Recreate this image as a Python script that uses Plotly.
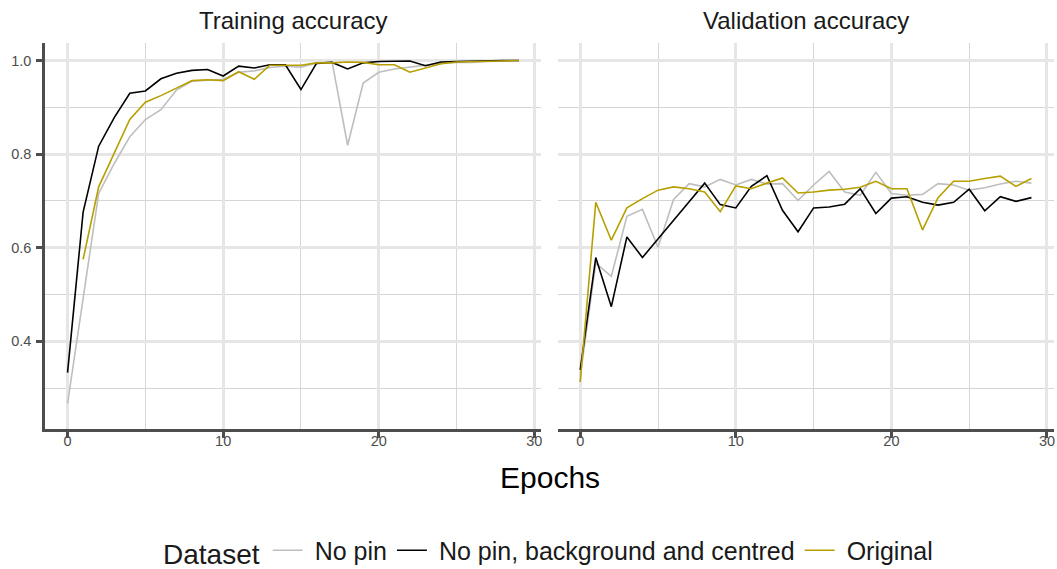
import plotly.graph_objects as go

epochs = list(range(30))

train_nopin = [0.267, 0.49, 0.716, 0.78, 0.837, 0.874, 0.895, 0.937, 0.956, 0.958,
               0.960, 0.975, 0.978, 0.985, 0.988, 0.986, 0.995, 0.997, 0.819, 0.952,
               0.975, 0.982, 0.986, 0.990, 0.994, 0.996, 0.996, 0.998, 0.999, 1.0]
train_nopin_bg = [0.333, 0.676, 0.817, 0.878, 0.930, 0.935, 0.961, 0.973, 0.979, 0.981,
                  0.967, 0.988, 0.984, 0.991, 0.991, 0.938, 0.994, 0.996, 0.982, 0.995,
                  0.998, 0.998, 0.999, 0.989, 0.997, 0.998, 0.999, 0.999, 1.0, 1.0]
train_original = [None, 0.575, 0.730, 0.802, 0.874, 0.911, 0.925, 0.941, 0.957, 0.959,
                  0.957, 0.976, 0.960, 0.990, 0.990, 0.990, 0.995, 0.995, 0.997, 0.996,
                  0.991, 0.991, 0.975, 0.984, 0.993, 0.997, 0.998, 0.999, 1.0, 1.0]

val_nopin = [0.325, 0.567, 0.539, 0.667, 0.682, 0.601, 0.703, 0.737, 0.730, 0.746,
             0.734, 0.746, 0.736, 0.737, 0.701, 0.734, 0.763, 0.719, 0.712, 0.761,
             0.716, 0.712, 0.714, 0.737, 0.734, 0.723, 0.728, 0.736, 0.742, 0.738]
val_nopin_bg = [0.339, 0.579, 0.474, 0.623, 0.579, 0.618, 0.659, 0.698, 0.738, 0.692,
                0.685, 0.731, 0.754, 0.680, 0.634, 0.685, 0.687, 0.693, 0.726, 0.673,
                0.706, 0.709, 0.697, 0.691, 0.697, 0.725, 0.679, 0.709, 0.699, 0.707]
val_original = [0.313, 0.697, 0.616, 0.685, 0.705, 0.723, 0.730, 0.726, 0.719, 0.677,
                0.732, 0.726, 0.738, 0.749, 0.717, 0.719, 0.723, 0.725, 0.729, 0.742,
                0.726, 0.726, 0.638, 0.707, 0.742, 0.742, 0.748, 0.753, 0.731, 0.748]

series_names = ["No pin", "No pin, background and centred", "Original"]
series_colors = ["#BEBEBE", "#000000", "#B79F00"]
panel_titles = ["Training accuracy", "Validation accuracy"]
x_ticks = [0, 10, 20, 30]
y_ticks = [0.4, 0.6, 0.8, 1.0]

FONT = "Liberation Sans, Arial, sans-serif"
NB = "\u00a0"

fig = go.Figure()
train = [train_nopin, train_nopin_bg, train_original]
val = [val_nopin, val_nopin_bg, val_original]
for i, (name, col) in enumerate(zip(series_names, series_colors)):
    fig.add_trace(go.Scatter(x=epochs, y=train[i], mode="lines", name=NB + name,
                             line=dict(color=col, width=1.6), legendgroup=name,
                             xaxis="x", yaxis="y", connectgaps=False))
    fig.add_trace(go.Scatter(x=epochs, y=val[i], mode="lines", name=NB + name,
                             line=dict(color=col, width=1.6), legendgroup=name,
                             showlegend=False, xaxis="x2", yaxis="y2"))

L, R, T, B = 44.7, 3.2, 43, 140
W, H = 1057, 569
pw = W - L - R
ph = H - B - T
d1 = (541.1 - L) / pw
d2 = (557.4 - L) / pw

xcommon = dict(range=[-1.45, 30.45], tickvals=x_ticks, showline=True, linecolor="#4D4D4D",
               linewidth=2.6, ticks="outside", ticklen=6, tickwidth=2.6, tickcolor="#4D4D4D",
               tickfont=dict(family=FONT, size=14.5, color="#4D4D4D"), zeroline=False,
               automargin=False, ticklabelstandoff=-9,
               showgrid=True, gridcolor="#E6E6E6", gridwidth=3,
               minor=dict(dtick=5, tick0=0, showgrid=True, gridcolor="#D6D6D6", gridwidth=1.2))
ycommon = dict(range=[0.2125, 1.0375], tickvals=y_ticks, ticktext=["0.4", "0.6", "0.8", "1.0"],
               zeroline=False, automargin=False,
               showgrid=True, gridcolor="#E6E6E6", gridwidth=3,
               minor=dict(dtick=0.1, tick0=0, showgrid=True, gridcolor="#D6D6D6", gridwidth=1.2),
               tickfont=dict(family=FONT, size=14.5, color="#4D4D4D"))

fig.update_layout(
    width=W, height=H,
    margin=dict(l=L, r=R, t=T, b=B, pad=0, autoexpand=False),
    paper_bgcolor="white", plot_bgcolor="white",
    font=dict(family=FONT, color="#1A1A1A"),
    xaxis=dict(domain=[0, d1], anchor="y", **xcommon),
    xaxis2=dict(domain=[d2, 1], anchor="y2", **xcommon),
    yaxis=dict(domain=[0, 1], anchor="x", showline=True, linecolor="#4D4D4D", linewidth=2.6,
               ticks="outside", ticklen=6, tickwidth=2.6, tickcolor="#4D4D4D",
               ticklabelstandoff=2, **ycommon),
    yaxis2=dict(domain=[0, 1], anchor="x2", showline=False, showticklabels=False, ticks="",
                **ycommon),
    showlegend=True,
    legend=dict(orientation="h", x=0.5, xanchor="center", xref="paper",
                y=(H - 551) / H, yanchor="middle", yref="container",
                title=dict(text="Dataset", side="left",
                           font=dict(family=FONT, size=28, color="#1A1A1A")),
                font=dict(family=FONT, size=25, color="#1A1A1A"),
                itemwidth=30, bgcolor="rgba(0,0,0,0)"),
)

title_y = (H - B - 20) / ph
annotations = [
    dict(text=panel_titles[0], x=d1 / 2, y=title_y, xref="paper", yref="paper",
         showarrow=False, xanchor="center", yanchor="middle",
         font=dict(family=FONT, size=24, color="#1A1A1A")),
    dict(text=panel_titles[1], x=(d2 + 1) / 2, y=title_y, xref="paper", yref="paper",
         showarrow=False, xanchor="center", yanchor="middle",
         font=dict(family=FONT, size=24, color="#1A1A1A")),
    dict(text="Epochs", x=0.5, y=(H - B - 477) / ph, xref="paper", yref="paper",
         showarrow=False, xanchor="center", yanchor="middle",
         font=dict(family=FONT, size=30, color="#000000")),
]
fig.update_layout(annotations=annotations)

fig.write_html("out.html", config={"displayModeBar": False},
               post_script="document.body.style.margin='0';document.body.style.overflow='hidden';")
